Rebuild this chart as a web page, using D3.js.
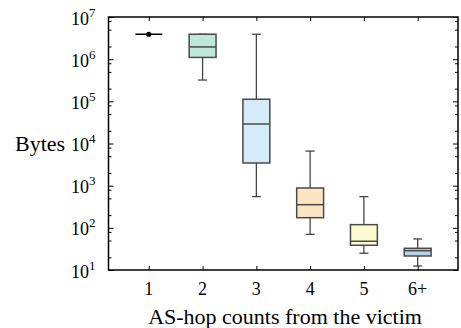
<!DOCTYPE html>
<html>
<head>
<meta charset="utf-8">
<script src="https://cdn.jsdelivr.net/npm/d3@7"></script>
<style>
  body { margin: 0; background: #fff; }
  text { font-family: 'Liberation Serif', 'Times New Roman', serif; fill: #000; }
</style>
</head>
<body>
<div id="chart"></div>
<script>
// Box plot data (bytes, log scale)
const categories = ['1', '2', '3', '4', '5', '6+'];
const whiskerLow = [3.9e6, 3.2e5, 550, 70, 25, 12.4];
const q1 = [3.9e6, 1.1e6, 3450, 174, 38.6, 21.5];
const median = [3.9e6, 1.95e6, 2.9e4, 354, 48, 28.7];
const q3 = [3.9e6, 3.9e6, 1.12e5, 880, 119, 32.7];
const whiskerHigh = [3.9e6, 3.9e6, 3.9e6, 6600, 550, 54.5];
const boxColors = ['#bfe8da', '#bfe8da', '#d5ebf8', '#fbe5c3', '#fcf8cf', '#b3d6ec'];

const yMajor = [1e1, 1e2, 1e3, 1e4, 1e5, 1e6, 1e7];
const yExp = ['1', '2', '3', '4', '5', '6', '7'];
const minorMult = [2, 5, 8];

const width = 461, height = 328;
const margin = { top: 17, right: 3, bottom: 58, left: 108.5 };

const svg = d3.select('#chart').append('svg')
  .attr('width', width)
  .attr('height', height);

const x = d3.scaleLinear()
  .domain([0.25, categories.length + 0.75])
  .range([margin.left, width - margin.right]);

const y = d3.scaleLog()
  .domain([10, 1e7])
  .range([height - margin.bottom, margin.top]);

const minorTicks = [];
yMajor.slice(0, -1).forEach(v => minorMult.forEach(m => minorTicks.push(v * m)));

// axes with inward ticks on all four sides
function styleAxis(g) {
  g.select('.domain').remove();
  g.selectAll('line').attr('stroke', '#000').attr('stroke-width', 1);
}

svg.append('g')
  .attr('transform', `translate(${x.range()[0]},0)`)
  .call(d3.axisLeft(y).tickValues(yMajor).tickSize(-5).tickFormat(''))
  .call(styleAxis);
svg.append('g')
  .attr('transform', `translate(${x.range()[0]},0)`)
  .call(d3.axisLeft(y).tickValues(minorTicks).tickSize(-3).tickFormat(''))
  .call(styleAxis);
svg.append('g')
  .attr('transform', `translate(${x.range()[1]},0)`)
  .call(d3.axisRight(y).tickValues(yMajor).tickSize(-5).tickFormat(''))
  .call(styleAxis);
svg.append('g')
  .attr('transform', `translate(${x.range()[1]},0)`)
  .call(d3.axisRight(y).tickValues(minorTicks).tickSize(-3).tickFormat(''))
  .call(styleAxis);

const xIdx = categories.map((c, i) => i + 1);
svg.append('g')
  .attr('transform', `translate(0,${y.range()[0]})`)
  .call(d3.axisBottom(x).tickValues(xIdx).tickSize(-4).tickFormat(''))
  .call(styleAxis);
svg.append('g')
  .attr('transform', `translate(0,${y.range()[1]})`)
  .call(d3.axisTop(x).tickValues(xIdx).tickSize(-4).tickFormat(''))
  .call(styleAxis);

// y tick labels 10^n
const yLab = svg.append('g').selectAll('text')
  .data(yMajor).enter().append('text')
  .attr('x', x.range()[0] - 13)
  .attr('y', d => y(d) + 7.5)
  .attr('text-anchor', 'end')
  .style('font-size', '18px');
yLab.append('tspan').text('10');
yLab.append('tspan')
  .attr('dy', '-8')
  .style('font-size', '13px')
  .text((d, i) => yExp[i]);

// x tick labels
svg.append('g').selectAll('text')
  .data(categories).enter().append('text')
  .attr('x', (d, i) => x(i + 1))
  .attr('y', 295)
  .attr('text-anchor', 'middle')
  .style('font-size', '18px')
  .text(d => d);

// boxes
const boxW = x(1.5) - x(1);
const capW = 9;
const boxes = svg.append('g').selectAll('g')
  .data(categories).enter().append('g');

boxes.append('line')
  .attr('x1', (d, i) => x(i + 1)).attr('x2', (d, i) => x(i + 1))
  .attr('y1', (d, i) => y(whiskerHigh[i])).attr('y2', (d, i) => y(q3[i]))
  .attr('stroke', '#444').attr('stroke-width', 1.3);
boxes.append('line')
  .attr('x1', (d, i) => x(i + 1)).attr('x2', (d, i) => x(i + 1))
  .attr('y1', (d, i) => y(q1[i])).attr('y2', (d, i) => y(whiskerLow[i]))
  .attr('stroke', '#444').attr('stroke-width', 1.3);
[whiskerHigh, whiskerLow].forEach(arr => {
  boxes.filter((d, i) => arr[i] !== q1[i] || q1[i] !== q3[i])
    .append('line')
    .attr('x1', d => x(categories.indexOf(d) + 1) - capW / 2)
    .attr('x2', d => x(categories.indexOf(d) + 1) + capW / 2)
    .attr('y1', d => y(arr[categories.indexOf(d)]))
    .attr('y2', d => y(arr[categories.indexOf(d)]))
    .attr('stroke', '#444').attr('stroke-width', 1.3);
});

boxes.filter((d, i) => q3[i] > q1[i]).append('rect')
  .attr('x', d => x(categories.indexOf(d) + 1) - boxW / 2)
  .attr('width', boxW)
  .attr('y', d => y(q3[categories.indexOf(d)]))
  .attr('height', d => y(q1[categories.indexOf(d)]) - y(q3[categories.indexOf(d)]))
  .attr('fill', d => boxColors[categories.indexOf(d)])
  .attr('stroke', '#4a4a4a')
  .attr('stroke-width', 1.5);

boxes.append('line')
  .attr('x1', (d, i) => x(i + 1) - boxW / 2)
  .attr('x2', (d, i) => x(i + 1) + boxW / 2)
  .attr('y1', (d, i) => y(median[i]))
  .attr('y2', (d, i) => y(median[i]))
  .attr('stroke', (d, i) => q3[i] > q1[i] ? '#4a4a4a' : '#000')
  .attr('stroke-width', 1.5);

// degenerate box: all values equal, marked with a dot
boxes.filter((d, i) => q3[i] === q1[i]).append('circle')
  .attr('cx', d => x(categories.indexOf(d) + 1))
  .attr('cy', d => y(median[categories.indexOf(d)]))
  .attr('r', 2.6)
  .attr('fill', '#000');

// frame
svg.append('rect')
  .attr('x', x.range()[0])
  .attr('y', y.range()[1])
  .attr('width', x.range()[1] - x.range()[0])
  .attr('height', y.range()[0] - y.range()[1])
  .attr('fill', 'none')
  .attr('stroke', '#000')
  .attr('stroke-width', 1.5);

// axis titles
svg.append('text')
  .attr('x', 15)
  .attr('y', 150.7)
  .style('font-size', '22px')
  .text('Bytes');

svg.append('text')
  .attr('x', 285)
  .attr('y', 324)
  .attr('text-anchor', 'middle')
  .style('font-size', '22px')
  .text('AS-hop counts from the victim');
</script>
</body>
</html>
